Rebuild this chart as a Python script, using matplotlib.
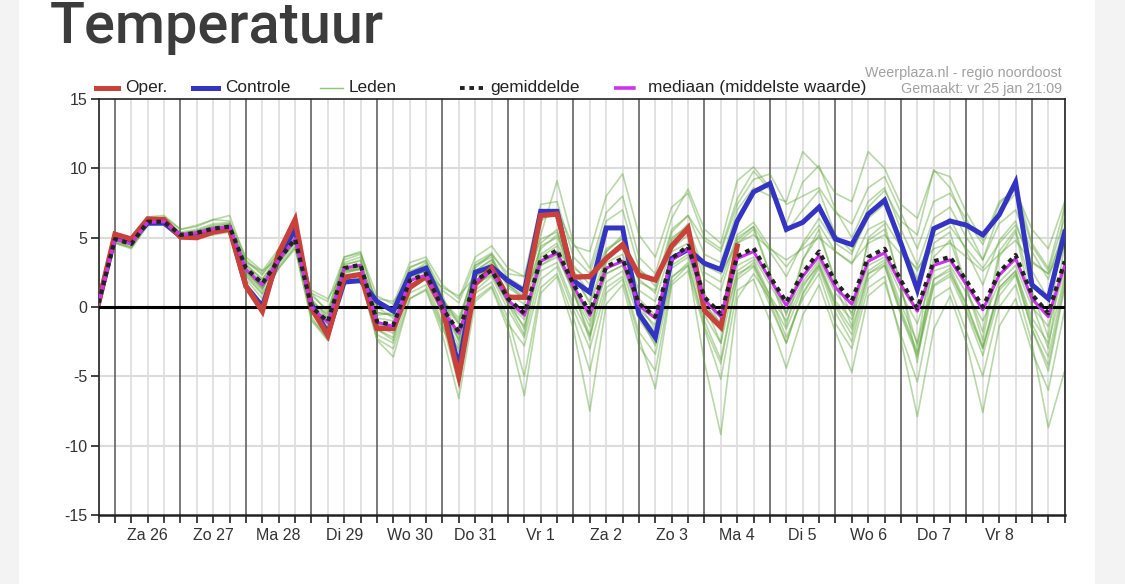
import matplotlib
matplotlib.use('Agg')
import matplotlib.pyplot as plt
from matplotlib.lines import Line2D
from matplotlib.patches import Rectangle
import numpy as np

# ---------------- data (6-hourly steps from vr 25 jan 18:00) ----------------
day_labels = ["Za 26", "Zo 27", "Ma 28", "Di 29", "Wo 30", "Do 31", "Vr 1",
              "Za 2", "Zo 3", "Ma 4", "Di 5", "Wo 6", "Do 7", "Vr 8"]

oper = [0.3, 5.25, 4.9, 6.35, 6.3, 5.05, 5.0, 5.4, 5.6, 1.5,
        -0.3, 3.9, 6.3, -0.1, -2.05, 2.15, 2.35, -1.55, -1.55, 1.4,
        2.2, -0.1, -5.0, 1.65, 2.8, 0.7, 0.7, 6.6, 6.7, 2.15,
        2.2, 3.5, 4.5, 2.3, 1.95, 4.4, 5.7, -0.25, -1.45, 4.4]

controle = [0.3, 5.05, 4.8, 6.05, 6.05, 5.1, 5.25, 5.5, 5.7, 1.5,
            0.05, 3.6, 5.6, 0.2, -1.9, 1.8, 1.9, 0.4, -0.3, 2.35,
            2.8, 0.3, -4.3, 2.5, 2.9, 1.9, 1.15, 6.9, 6.9, 1.9,
            1.05, 5.7, 5.7, -0.5, -2.2, 3.5, 4.15, 3.15, 2.7, 6.2,
            8.3, 8.9, 5.6, 6.1, 7.2, 4.9, 4.5, 6.7, 7.7, 4.6,
            1.25, 5.65, 6.2, 5.9, 5.2, 6.65, 9.0, 1.6, 0.6, 5.4]

gemiddelde = [0.3, 4.9, 4.55, 6.15, 6.15, 5.2, 5.35, 5.65, 5.8, 2.8,
              1.7, 3.4, 4.9, 0.0, -1.05, 2.8, 3.05, -1.05, -1.3, 1.9,
              2.4, -0.1, -1.8, 1.9, 2.65, 0.6, -0.45, 3.4, 4.1, 1.65,
              -0.4, 2.9, 3.5, 0.25, -0.7, 3.5, 4.4, 0.7, -0.5, 3.65,
              4.25, 2.2, 0.35, 2.45, 4.0, 1.8, 0.45, 3.6, 4.2, 1.9,
              -0.1, 3.3, 3.6, 1.9, 0.0, 2.5, 3.75, 0.9, -0.45, 3.3]

mediaan = [0.3, 4.9, 4.55, 6.1, 6.15, 5.2, 5.35, 5.65, 5.8, 2.7,
           1.6, 3.4, 4.9, 0.0, -1.1, 2.8, 3.0, -1.1, -1.4, 1.9,
           2.3, -0.2, -1.9, 1.8, 2.6, 0.5, -0.6, 3.3, 3.9, 1.5,
           -0.6, 2.8, 3.3, 0.1, -0.8, 3.4, 4.2, 0.5, -0.7, 3.5,
           4.0, 2.0, 0.1, 2.2, 3.7, 1.4, 0.2, 3.3, 3.9, 1.6,
           -0.3, 3.0, 3.4, 1.6, -0.2, 2.3, 3.5, 0.6, -0.7, 3.0]

leden = [
    [0.4, 5.3, 4.9, 6.4, 6.3, 5.4, 5.6, 6.0, 6.1, 3.3,
     2.3, 3.9, 5.4, 0.8, -0.2, 3.4, 3.8, 0.2, -0.1, 2.9,
     3.3, 1.2, 0.3, 3.2, 3.9, 2.1, 1.4, 4.9, 5.4, 3.0,
     1.6, 4.2, 4.9, 1.8, 1.2, 5.0, 5.8, 2.5, 1.8, 5.2,
     6.1, 4.3, 2.9, 4.4, 5.9, 4.0, 3.1, 5.6, 6.2, 4.3,
     2.6, 5.1, 5.8, 4.2, 2.8, 4.6, 5.9, 3.3, 2.4, 5.4],
    [0.2, 4.6, 4.2, 5.9, 5.9, 4.9, 5.0, 5.2, 5.4, 2.2,
     0.9, 2.8, 4.3, -0.9, -2.2, 1.9, 2.1, -2.3, -3.0, 0.6,
     1.3, -1.6, -3.6, 0.6, 1.5, -1.2, -2.8, 2.0, 2.9, -0.2,
     -3.0, 1.4, 2.2, -1.8, -3.4, 2.1, 3.2, -1.4, -4.1, 2.0,
     2.9, 0.1, -2.6, 0.9, 2.8, -0.4, -2.5, 2.0, 3.0, -0.6,
     -3.6, 1.5, 2.2, -0.4, -3.5, 0.8, 2.3, -1.6, -4.2, 1.6],
    [0.3, 5.1, 4.8, 6.1, 6.1, 5.1, 5.3, 5.6, 5.9, 2.4,
     1.2, 3.6, 5.8, 0.6, -0.8, 2.4, 2.8, -0.6, -0.4, 2.6,
     3.0, 0.9, -2.5, 3.0, 3.8, 2.4, 2.2, 7.4, 7.6, 3.6,
     2.4, 6.2, 7.0, 2.8, 1.5, 5.6, 6.6, 4.8, 4.0, 7.4,
     9.2, 9.6, 7.4, 8.0, 8.6, 6.8, 6.0, 8.6, 9.4, 6.8,
     4.2, 7.6, 8.2, 6.3, 4.5, 7.4, 8.8, 4.6, 2.8, 7.2],
    [0.3, 4.8, 4.5, 6.2, 6.3, 5.3, 5.5, 5.8, 5.7, 2.6,
     1.4, 3.2, 4.6, -0.4, -1.6, 2.6, 2.7, -1.6, -2.2, 1.5,
     2.0, -1.2, -5.6, 1.2, 2.2, -0.2, -2.2, 2.6, 3.2, 0.2,
     -2.1, 1.8, 2.6, -0.9, -2.6, 2.2, 3.0, -4.0, -9.2, 0.6,
     2.4, 0.6, -1.6, 1.4, 3.2, 0.4, -0.9, 2.6, 3.4, 0.2,
     -2.6, 2.0, 2.8, 0.2, -2.8, 1.4, 2.6, -1.2, -3.6, 2.0],
    [0.3, 5.0, 4.7, 6.3, 6.5, 5.6, 5.9, 6.3, 6.6, 3.4,
     2.4, 4.0, 5.6, 1.0, 0.4, 3.6, 3.9, 0.8, 0.2, 3.2,
     3.6, 1.6, 0.6, 3.6, 4.4, 2.8, 2.2, 6.2, 7.0, 4.4,
     4.0, 8.0, 9.6, 5.2, 3.6, 7.2, 8.2, 5.0, 4.2, 7.8,
     9.8, 8.4, 6.0, 9.0, 10.2, 7.0, 5.0, 7.6, 8.6, 5.6,
     3.0, 6.4, 7.2, 5.0, 3.4, 6.0, 7.0, 4.0, 2.0, 5.8],
    [0.4, 5.2, 4.8, 6.0, 6.0, 5.0, 5.2, 5.5, 5.6, 3.0,
     2.0, 3.6, 5.2, 0.4, -0.6, 3.0, 3.4, -0.4, -0.6, 2.4,
     2.8, 0.4, -1.0, 2.6, 3.4, 1.4, 0.6, 4.2, 5.2, 2.6,
     1.0, 4.0, 5.0, 2.0, 1.0, 5.4, 6.6, 3.8, 3.2, 7.0,
     8.6, 8.0, 7.6, 11.2, 10.0, 8.2, 7.6, 11.2, 10.0, 7.4,
     6.4, 9.8, 9.4, 6.8, 4.8, 7.6, 8.4, 5.6, 4.2, 7.6],
    [0.2, 4.7, 4.4, 6.0, 6.0, 5.0, 5.2, 5.6, 5.7, 2.7,
     1.5, 3.2, 4.8, -0.2, -1.4, 2.6, 2.9, -1.4, -1.9, 1.5,
     2.2, -0.6, -2.8, 1.6, 2.4, 0.2, -1.4, 3.0, 3.8, 1.0,
     -1.4, 2.4, 3.0, -0.4, -1.8, 2.8, 3.6, -0.6, -2.6, 2.6,
     3.4, 0.8, -2.2, 0.6, 2.4, -1.2, -3.0, 1.4, 2.2, -2.4,
     -7.9, -1.6, 0.8, -2.6, -7.6, -1.4, 0.6, -3.2, -6.0, -0.2],
    [0.3, 4.9, 4.5, 6.3, 6.4, 5.3, 5.5, 5.9, 6.0, 2.6,
     1.3, 3.6, 5.3, -0.4, -1.9, 3.2, 3.6, -1.6, -2.4, 2.4,
     3.2, -0.8, -3.2, 2.8, 3.8, 0.2, -2.0, 4.6, 5.6, 1.2,
     -2.4, 4.0, 5.2, -0.6, -2.8, 4.8, 6.0, 0.2, -2.6, 4.8,
     5.8, 2.4, -1.4, 3.4, 5.6, 1.6, -1.4, 5.0, 6.0, 1.4,
     -2.8, 4.6, 5.4, 1.4, -2.4, 3.6, 5.4, 0.2, -3.0, 4.6],
    [0.3, 5.0, 4.7, 6.1, 6.0, 5.2, 5.4, 5.7, 5.8, 3.2,
     2.6, 3.5, 4.6, 1.2, 0.6, 2.6, 2.8, 0.6, 0.4, 2.0,
     2.4, 1.4, 0.8, 2.2, 2.8, 1.8, 1.2, 3.4, 4.0, 2.8,
     2.0, 3.6, 4.2, 2.6, 2.0, 4.0, 4.6, 3.0, 2.4, 4.6,
     5.2, 4.2, 3.4, 4.2, 5.0, 4.0, 3.2, 4.6, 5.2, 3.8,
     2.8, 4.2, 4.6, 3.6, 2.6, 3.8, 4.8, 3.2, 2.4, 4.4],
    [0.3, 4.7, 4.3, 5.9, 6.0, 5.1, 5.1, 5.4, 5.5, 2.3,
     1.0, 3.0, 4.4, -0.7, -2.4, 2.0, 2.4, -2.0, -2.6, 1.0,
     1.6, -1.4, -3.0, 1.0, 1.8, -0.8, -5.0, 1.4, 2.4, -0.8,
     -4.6, 1.0, 2.0, -2.2, -5.9, 1.6, 2.6, -1.6, -5.2, 1.2,
     2.0, -1.0, -4.4, -0.6, 1.6, -1.8, -4.7, 0.8, 1.8, -2.0,
     -5.4, 0.6, 1.4, -1.8, -5.0, 0.0, 1.6, -2.6, -8.7, -4.6],
    [0.4, 5.3, 5.0, 6.5, 6.6, 5.6, 5.8, 6.3, 6.2, 3.6,
     2.6, 4.2, 5.9, 1.0, -0.4, 3.6, 4.0, 0.0, -0.8, 2.8,
     3.4, 0.6, -1.2, 3.0, 3.6, 1.6, 0.6, 4.4, 5.0, 2.4,
     0.2, 3.2, 3.8, 0.6, -0.6, 3.4, 4.0, 0.4, -1.6, 2.4,
     3.0, 0.8, -1.0, 1.6, 3.0, 0.2, -1.6, 2.4, 3.0, -0.4,
     -3.4, 1.6, 2.4, 0.2, -3.0, 1.4, 2.6, -0.8, -2.6, 2.2],
    [0.3, 5.0, 4.6, 6.2, 6.1, 5.2, 5.3, 5.6, 5.8, 2.9,
     1.8, 3.5, 5.0, 0.2, -0.8, 2.9, 3.1, -0.8, -1.0, 2.1,
     2.6, 0.2, -1.2, 2.2, 3.0, 1.0, 0.2, 3.8, 4.6, 2.2,
     0.4, 3.6, 4.4, 1.2, 0.4, 4.4, 5.4, 2.0, 1.2, 5.0,
     5.8, 4.0, 2.2, 4.6, 6.4, 4.6, 3.8, 7.2, 8.4, 6.2,
     5.2, 9.9, 8.6, 5.8, 3.4, 6.8, 8.2, 4.4, 2.6, 6.4],
    [0.2, 4.6, 4.3, 6.0, 6.2, 5.2, 5.4, 5.6, 5.5, 2.0,
     0.6, 2.8, 4.2, -1.0, -2.4, 1.8, 2.0, -2.4, -3.6, 0.6,
     1.2, -2.0, -6.6, 0.4, 1.4, -1.6, -6.4, 1.0, 2.2, -1.6,
     -7.5, 0.2, 1.6, -2.8, -4.6, 1.8, 3.0, -1.0, -3.8, 2.2,
     3.2, 0.4, -2.6, 1.0, 3.0, 0.0, -2.0, 2.4, 3.2, -0.2,
     -3.2, 2.0, 2.6, -0.2, -3.0, 1.2, 2.4, -1.6, -4.6, 1.4],
    [0.3, 5.1, 4.6, 6.2, 6.2, 5.3, 5.4, 5.8, 6.0, 3.1,
     2.0, 3.7, 5.1, 0.4, -0.5, 3.1, 3.3, -0.4, -0.6, 2.3,
     2.8, 0.5, -0.8, 2.6, 3.4, 1.6, 0.8, 5.2, 9.1, 4.6,
     2.8, 6.8, 8.0, 3.6, 2.4, 6.4, 8.5, 5.6, 4.6, 9.1,
     10.1, 8.6, 5.4, 7.0, 8.4, 5.2, 4.0, 6.4, 7.4, 4.6,
     2.0, 5.6, 6.4, 4.0, 1.6, 4.8, 6.2, 2.6, 0.6, 4.6],
    [0.3, 4.8, 4.5, 6.1, 6.1, 5.1, 5.3, 5.6, 5.7, 2.5,
     1.4, 3.2, 4.7, -0.3, -1.2, 2.5, 2.7, -1.3, -1.6, 1.6,
     2.1, -0.4, -2.2, 1.6, 2.3, 0.3, -0.9, 3.0, 3.6, 1.2,
     -1.0, 2.4, 3.0, -0.2, -1.3, 3.0, 3.8, 0.2, -1.2, 3.0,
     3.6, 1.6, -0.4, 1.8, 3.4, 1.0, -0.4, 3.0, 3.6, 1.0,
     -1.2, 2.6, 3.0, 1.0, -1.0, 1.8, 3.0, 0.0, -1.4, 2.6],
    [0.3, 5.0, 4.7, 6.2, 6.1, 5.1, 5.3, 5.7, 5.9, 2.7,
     1.6, 3.4, 4.9, 0.0, -1.2, 2.8, 3.0, -1.2, -1.6, 2.2,
     2.6, -0.4, -2.4, 2.4, 3.2, 0.6, -1.6, 3.6, 4.4, 1.0,
     -2.0, 3.4, 4.4, 0.2, -1.6, 4.2, 5.2, 1.0, -1.4, 4.6,
     5.6, 2.4, -0.6, 3.4, 5.2, 2.0, -0.6, 4.8, 5.6, 1.6,
     -4.0, 3.6, 4.8, 1.4, -1.8, 4.0, 5.6, 1.2, -2.2, 7.5],
]

# ---------------- figure ----------------
W, H = 1125, 584
fig = plt.figure(figsize=(W / 100, H / 100), dpi=100)
fig.patch.set_facecolor('white')
fig.add_artist(Rectangle((0, 0), 19 / W, 1, transform=fig.transFigure,
                         facecolor='#f3f3f3', edgecolor='none', zorder=0))
fig.add_artist(Rectangle((1095 / W, 0), 30 / W, 1, transform=fig.transFigure,
                         facecolor='#f3f3f3', edgecolor='none', zorder=0))

ax = fig.add_axes([98.6 / W, (H - 515) / H, (1064.7 - 98.6) / W, (515 - 99) / H])

t = np.arange(len(controle))
n = len(t)

# grid
for i in range(n):
    if i % 4 == 1:
        ax.axvline(i, color='#555555', lw=1.1, zorder=1)
    else:
        ax.axvline(i, color='#dddddd', lw=1.2, zorder=0.5)
for yv in (-10, -5, 5, 10):
    ax.axhline(yv, color='#dcdcdc', lw=1.5, zorder=0.5)

# members
for m in leden:
    ax.plot(t, m, color='#58a330', lw=1.2, alpha=0.42, zorder=2)

ax.axhline(0, color='black', lw=2.2, zorder=3)

ax.plot(t[:len(oper)], oper, color='#c8423b', lw=3.8, zorder=5, solid_joinstyle='miter')
ax.plot(t, controle, color='#3434c4', lw=3.6, zorder=4, solid_joinstyle='miter')
ax.plot(t, mediaan, color='#cc33ee', lw=2.2, zorder=6)
ax.plot(t, gemiddelde, color='#222222', lw=3.0, ls=(0, (1.1, 1.1)), zorder=7)

ax.set_xlim(0, n - 1)
ax.set_ylim(-15, 15)
ax.set_yticks([-15, -10, -5, 0, 5, 10, 15])
ax.set_yticklabels(['-15', '-10', '-5', '0', '5', '10', '15'])
label_pos = [3 + 4 * k for k in range(len(day_labels))]
ax.set_xticks(label_pos)
ax.set_xticklabels(day_labels)
ax.set_xticks([i for i in range(n) if i not in label_pos], minor=True)
ax.tick_params(axis='x', which='both', length=6, width=1.2, color='#222222',
               labelsize=11.5, labelcolor='#333333', pad=3)
ax.tick_params(axis='y', length=6, width=1.2, color='#222222',
               labelsize=11.5, labelcolor='#333333', pad=2)
for lab in ax.get_xticklabels() + ax.get_yticklabels():
    lab.set_fontfamily('Liberation Sans')
for s in ('left', 'right', 'top'):
    ax.spines[s].set_color('#222222')
    ax.spines[s].set_linewidth(1.2)
ax.spines['bottom'].set_linewidth(1.8)
ax.spines['bottom'].set_color('#222222')

# title
fig.text(50 / W, 1 - 43 / H, 'Temperatuur', fontsize=41.5, family='Roboto',
         fontweight='medium', color='#3c3c3c', va='baseline', ha='left')

# legend (manual, figure pixels)
def fx(p):
    return p / W

def fy(p):
    return 1 - p / H

ly = 88
legend_items = [
    (96, 118, 125, 'Oper.', dict(color='#c8423b', lw=3.6)),
    (193, 218, 225, 'Controle', dict(color='#3434c4', lw=3.6)),
    (320, 343, 349, 'Leden', dict(color='#8cc870', lw=1.0)),
    (460, 483, 490, 'gemiddelde', dict(color='#222222', lw=2.8, ls=(0, (1.2, 1.2)))),
    (614, 640, 648, 'mediaan (middelste waarde)', dict(color='#cc33ee', lw=2.6, ls=(0, (6, 3, 1, 3)))),
]
for x0, x1, tx, lab, st in legend_items:
    fig.add_artist(Line2D([fx(x0), fx(x1)], [fy(ly), fy(ly)], transform=fig.transFigure, **st))
    fig.text(fx(tx), fy(ly), lab, fontsize=12.4, family='Liberation Sans', color='#222222',
             va='center', ha='left')

fig.text(fx(1062), fy(73), 'Weerplaza.nl - regio noordoost', fontsize=10.3,
         family='Liberation Sans', color='#a0a0a0', va='center', ha='right')
fig.text(fx(1062), fy(89), 'Gemaakt: vr 25 jan 21:09', fontsize=10.3,
         family='Liberation Sans', color='#a0a0a0', va='center', ha='right')

fig.savefig('out.png', dpi=100, facecolor=fig.get_facecolor())
